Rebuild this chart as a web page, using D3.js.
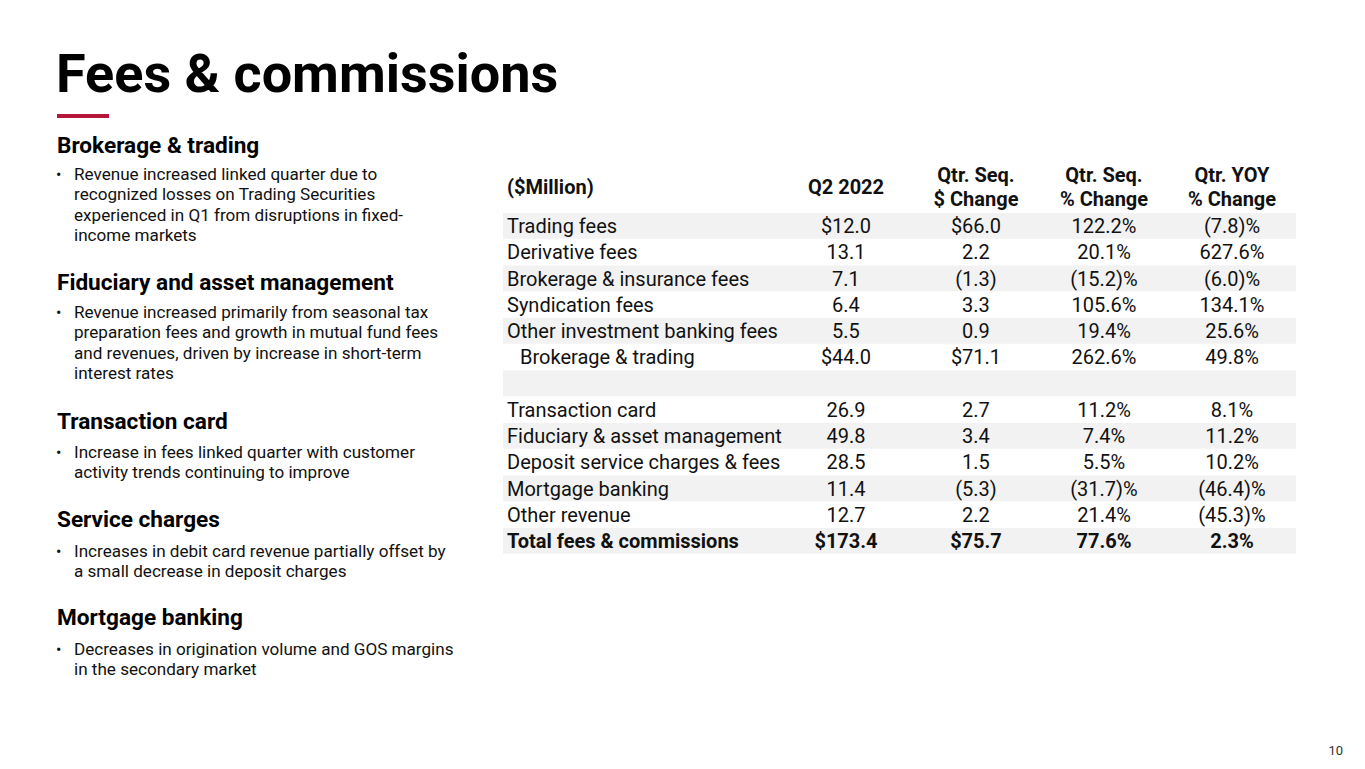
<!DOCTYPE html>
<html>
<head>
<meta charset="utf-8">
<script src="https://cdn.jsdelivr.net/npm/d3@7"></script>
<style>
  html, body { margin: 0; padding: 0; background: #fff; }
  svg { display: block; font-family: Roboto, "Noto Sans", sans-serif; }
</style>
</head>
<body>
<svg id="chart" width="1365" height="769"></svg>
<script>
// ---------------- data ----------------
const title = "Fees & commissions";
const pageNumber = "10";

const sectionHeadings = ["Brokerage & trading", "Fiduciary and asset management", "Transaction card", "Service charges", "Mortgage banking"];
const sectionBullets = [
  ["Revenue increased linked quarter due to", "recognized losses on Trading Securities", "experienced in Q1 from disruptions in fixed-", "income markets"],
  ["Revenue increased primarily from seasonal tax", "preparation fees and growth in mutual fund fees", "and revenues, driven by increase in short-term", "interest rates"],
  ["Increase in fees linked quarter with customer", "activity trends continuing to improve"],
  ["Increases in debit card revenue partially offset by", "a small decrease in deposit charges"],
  ["Decreases in origination volume and GOS margins", "in the secondary market"]
];

const columnHeaders = [["($Million)"], ["Q2 2022"], ["Qtr. Seq.", "$ Change"], ["Qtr. Seq.", "% Change"], ["Qtr. YOY", "% Change"]];

const categories = ["Trading fees", "Derivative fees", "Brokerage & insurance fees", "Syndication fees", "Other investment banking fees", "Brokerage & trading", "", "Transaction card", "Fiduciary & asset management", "Deposit service charges & fees", "Mortgage banking", "Other revenue", "Total fees & commissions"];
const q2Values      = [12.0, 13.1, 7.1, 6.4, 5.5, 44.0, null, 26.9, 49.8, 28.5, 11.4, 12.7, 173.4];
const seqDollarChg  = [66.0, 2.2, -1.3, 3.3, 0.9, 71.1, null, 2.7, 3.4, 1.5, -5.3, 2.2, 75.7];
const seqPctChg     = [122.2, 20.1, -15.2, 105.6, 19.4, 262.6, null, 11.2, 7.4, 5.5, -31.7, 21.4, 77.6];
const yoyPctChg     = [-7.8, 627.6, -6.0, 134.1, 25.6, 49.8, null, 8.1, 11.2, 10.2, -46.4, -45.3, 2.3];
const dollarRows    = ["Trading fees", "Brokerage & trading", "Total fees & commissions"];
const subtotalRows  = ["Brokerage & trading"];
const totalRows     = ["Total fees & commissions"];

// ---------------- drawing ----------------
const svg = d3.select("#chart");
const ink = "#111111";
const red = "#b5163a";
const shade = "#f2f2f2";

// title
svg.append("text").attr("x", 56).attr("y", 92)
  .attr("font-size", 54).attr("font-weight", 700).attr("fill", "#000")
  .text(title);
svg.append("rect").attr("x", 57).attr("y", 114).attr("width", 52).attr("height", 4).attr("fill", red);

// left column text
const headingBaselines = [153, 290, 429, 527, 625];
const firstBulletBaselines = [180, 318, 458, 557, 655];
const lineStep = 20.4;
sectionHeadings.forEach((h, i) => {
  svg.append("text").attr("x", 57).attr("y", headingBaselines[i])
    .attr("font-size", 22.6).attr("font-weight", 700).attr("fill", "#000").text(h);
  const lines = sectionBullets[i];
  svg.append("text").attr("x", 56).attr("y", firstBulletBaselines[i])
    .attr("font-size", 16).attr("fill", ink).text("•");
  svg.selectAll(null).data(lines).enter().append("text")
    .attr("x", 74)
    .attr("y", (d, j) => firstBulletBaselines[i] + j * lineStep)
    .attr("font-size", 17.1).attr("fill", ink)
    .text(d => d);
});

// table
const rowIdx = d3.range(categories.length);
const y = d3.scaleBand().domain(rowIdx).range([213, 213 + categories.length * 26.25]).padding(0);
const colKeys = ["label", "q2", "seqD", "seqP", "yoy"];
const x = d3.scaleOrdinal().domain(colKeys).range([507, 846, 976, 1104, 1232]);
const tableLeft = 503, tableRight = 1296;

// shaded bands (alternate rows)
svg.append("g").selectAll("rect")
  .data(rowIdx.filter(i => i % 2 === 0))
  .enter().append("rect")
  .attr("x", tableLeft).attr("width", tableRight - tableLeft)
  .attr("y", i => y(i)).attr("height", y.bandwidth() - 0.5)
  .attr("fill", shade);

// headers
const headerCenterY = 187;
columnHeaders.forEach((lines, c) => {
  const key = colKeys[c];
  const t = svg.append("text")
    .attr("x", x(key))
    .attr("text-anchor", c === 0 ? "start" : "middle")
    .attr("font-size", 20).attr("font-weight", 700).attr("fill", ink);
  const n = lines.length;
  lines.forEach((ln, j) => {
    t.append("tspan").attr("x", x(key))
      .attr("y", headerCenterY + 7 + (j - (n - 1) / 2) * 24)
      .text(ln);
  });
});

// formatters
const f1 = d3.format(".1f");
function fmtDollar(v, withSign) {
  if (v === null) return "";
  const s = f1(Math.abs(v));
  if (v < 0) return "(" + s + ")";
  return (withSign ? "$" : "") + s;
}
function fmtPct(v) {
  if (v === null) return "";
  const s = f1(Math.abs(v));
  return v < 0 ? "(" + s + ")%" : s + "%";
}

const rows = rowIdx.map(i => ({
  i,
  label: categories[i],
  q2: fmtDollar(q2Values[i], dollarRows.includes(categories[i])),
  seqD: fmtDollar(seqDollarChg[i], dollarRows.includes(categories[i])),
  seqP: fmtPct(seqPctChg[i]),
  yoy: fmtPct(yoyPctChg[i]),
  bold: totalRows.includes(categories[i]),
  indent: subtotalRows.includes(categories[i])
}));

const rowG = svg.append("g").selectAll("g").data(rows).enter().append("g")
  .attr("transform", d => `translate(0,${y(d.i) + y.bandwidth() / 2 + 7})`);

colKeys.forEach((key, c) => {
  rowG.append("text")
    .attr("x", d => x(key) + (c === 0 && d.indent ? 13 : 0))
    .attr("text-anchor", c === 0 ? "start" : "middle")
    .attr("font-size", 20)
    .attr("font-weight", d => d.bold ? 700 : 400)
    .attr("fill", ink)
    .text(d => d[key]);
});

// page number
svg.append("text").attr("x", 1343).attr("y", 755).attr("text-anchor", "end")
  .attr("font-size", 13).attr("fill", "#333").text(pageNumber);
</script>
</body>
</html>
